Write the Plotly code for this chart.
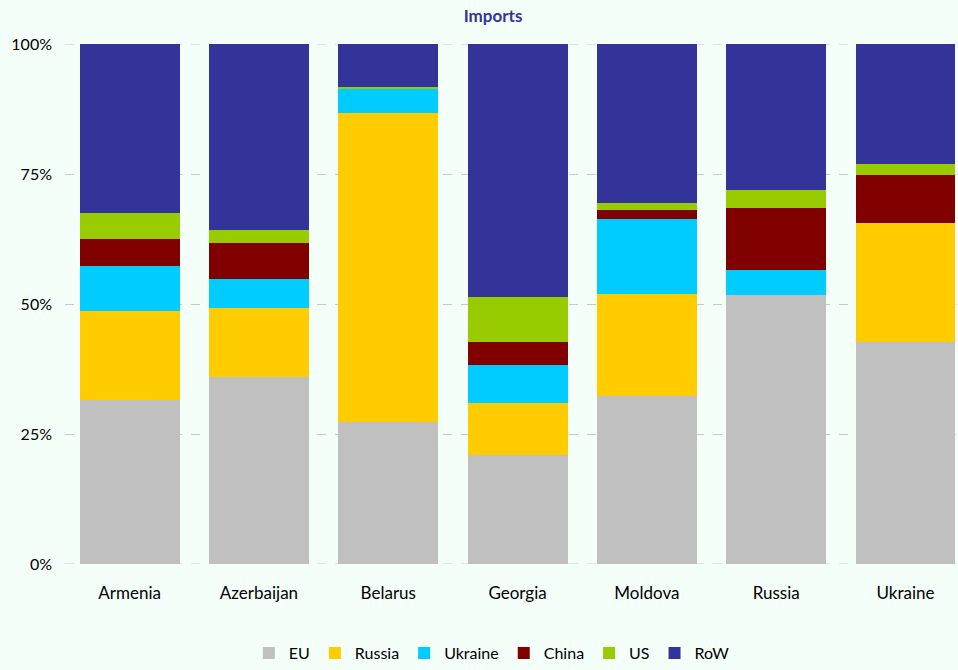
import plotly.graph_objects as go

# Import structure by partner (% of total imports)
countries = ["Armenia", "Azerbaijan", "Belarus", "Georgia", "Moldova", "Russia", "Ukraine"]
eu = [31.6, 35.9, 27.4, 20.9, 32.4, 51.8, 42.7]
russia = [17.0, 13.4, 59.3, 10.1, 19.6, 0.0, 22.9]
ukraine = [8.8, 5.6, 4.7, 7.2, 14.3, 4.8, 0.0]
china = [5.1, 6.9, 0.1, 4.4, 1.8, 11.9, 9.2]
us = [5.0, 2.4, 0.3, 8.8, 1.3, 3.4, 2.1]
row = [32.5, 35.8, 8.2, 48.6, 30.6, 28.1, 23.1]

y_ticks = [0, 25, 50, 75, 100]
y_ticktext = ["0%", "25%", "50%", "75%", "100%"]

series = [
    ("EU", eu, "#C0C0C0"),
    ("Russia", russia, "#FFCC00"),
    ("Ukraine", ukraine, "#00CCFF"),
    ("China", china, "#800000"),
    ("US", us, "#99CC00"),
    ("RoW", row, "#333399"),
]

FONT = "Lato"
BG = "#F5FFFA"
GRID = "#C8C8C8"

fig = go.Figure()
for name, vals, color in series:
    fig.add_trace(go.Bar(
        x=countries, y=vals, name=name,
        marker=dict(color=color, line=dict(width=0)),
    ))

# dashed lines at the axis edges (0% and 100%), behind the bars
for v in (y_ticks[0], y_ticks[-1]):
    fig.add_hline(y=v, line=dict(color=GRID, width=1, dash="dash"), layer="below")

fig.update_layout(
    barmode="stack",
    bargap=0.227,
    width=958, height=670,
    paper_bgcolor=BG, plot_bgcolor=BG,
    margin=dict(l=65, r=0, t=44, b=103),
    font=dict(family=FONT, size=16, color="#000000"),
    title=dict(
        text="<b>Imports</b>", x=493 / 958, xanchor="center",
        y=1 - 16 / 670, yanchor="middle",
        font=dict(family=FONT, size=17, color="#333399"),
    ),
    legend=dict(
        orientation="h", x=0.478, xanchor="center",
        y=-0.172, yanchor="middle",
        traceorder="normal",
        font=dict(family=FONT, size=16),
        itemwidth=30,
        bgcolor="rgba(0,0,0,0)",
    ),
    showlegend=True,
)

fig.update_xaxes(
    range=[-0.5, 6.406],
    showline=False, showgrid=False, ticks="",
    tickfont=dict(family=FONT, size=17),
    ticklabelstandoff=17,
)
fig.update_yaxes(
    range=[0, 100],
    tickmode="array", tickvals=y_ticks, ticktext=y_ticktext,
    showgrid=True, gridcolor=GRID, griddash="dash", gridwidth=1,
    zeroline=False, showline=False, ticks="",
    tickfont=dict(family=FONT, size=16),
    ticklabelstandoff=12,
)

fig.write_html("out.html")
